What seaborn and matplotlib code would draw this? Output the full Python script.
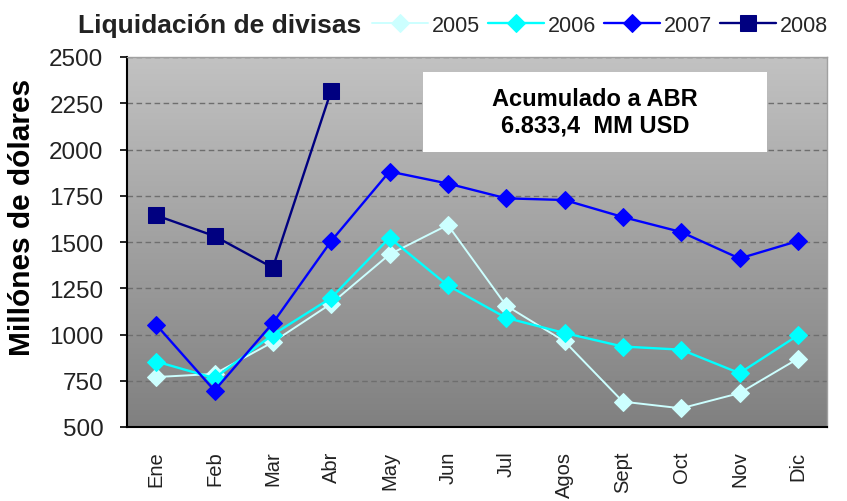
import numpy as np
import pandas as pd
import matplotlib
matplotlib.use("Agg")
import matplotlib.pyplot as plt
import seaborn as sns
from matplotlib.colors import LinearSegmentedColormap
from matplotlib.patches import Rectangle

months = ["Ene", "Feb", "Mar", "Abr", "May", "Jun", "Jul", "Agos", "Sept", "Oct", "Nov", "Dic"]
v2005 = [770, 787, 959, 1167, 1433, 1592, 1156, 963, 637, 601, 683, 869]
v2006 = [854, 764, 999, 1198, 1523, 1265, 1090, 1008, 935, 918, 791, 995]
v2007 = [1053, 697, 1062, 1505, 1881, 1816, 1736, 1727, 1635, 1554, 1411, 1505]
v2008 = [1644, 1532, 1361, 2318]
years = ["2005", "2006", "2007", "2008"]
colors = ["#CCFFFF", "#00FFFF", "#0000FF", "#000080"]
markers = ["D", "D", "D", "s"]
yticks = [500, 750, 1000, 1250, 1500, 1750, 2000, 2250, 2500]

rows = []
for yr, vals in zip(years, [v2005, v2006, v2007, v2008]):
    for m, v in zip(months, vals):
        rows.append({"mes": m, "valor": v, "anio": yr})
df = pd.DataFrame(rows)
df["x"] = df["mes"].map({m: i for i, m in enumerate(months)})

sns.set_theme(style="white")
plt.rcParams["font.family"] = ["Liberation Sans", "DejaVu Sans"]

W, H = 847, 502
fig = plt.figure(figsize=(W / 100, H / 100), dpi=100)
ax = fig.add_axes([127 / W, 1 - 428 / H, (827 - 127) / W, (428 - 58) / H])

# gradient background
grad = np.linspace(0, 1, 256).reshape(-1, 1)
cmap = LinearSegmentedColormap.from_list("g", ["#C2C2C2", "#808080"])
ax.imshow(grad, aspect="auto", cmap=cmap, extent=[0, 1, 0, 1],
          transform=ax.transAxes, zorder=0)

for yv in yticks[1:]:
    ax.axhline(yv, color="#6E6E6E", lw=1.0, ls=(0, (4, 2.5)), zorder=1)

sizes = {"2005": 9, "2006": 9, "2007": 9, "2008": 11}
widths = {"2005": 1.4, "2006": 1.7, "2007": 1.7, "2008": 1.7}
for yr, c, mk in zip(years, colors, markers):
    d = df[df["anio"] == yr]
    sns.lineplot(data=d, x="x", y="valor", ax=ax, color=c, marker=mk,
                 markersize=sizes[yr], markeredgecolor=c, lw=widths[yr],
                 label=yr, zorder=3, legend=False)

ax.set_xlim(-0.5, 11.5)
ax.set_ylim(500, 2500)
ax.set_yticks(yticks)
ax.set_yticklabels([str(t) for t in yticks], fontsize=17.5, color="#222222")
ax.set_xticks(np.arange(-0.5, 12, 1), minor=False)
ax.set_xticklabels([""] * 13)
ax.set_xticks(np.arange(12), minor=True)
ax.set_xticklabels(months, minor=True, rotation=90, fontsize=14.5, color="#222222",
                   va="top", ha="center")
ax.tick_params(axis="x", which="minor", length=0, pad=17)
ax.tick_params(axis="x", which="major", length=5, width=1.2, color="black", direction="out")
ax.tick_params(axis="y", length=5, width=1.2, color="black", direction="out", left=True, pad=12)
ax.set_xlabel("")
ax.set_ylabel("")
fig.text(22 / W, 1 - 217 / H, "Millónes de dólares", rotation=90, fontsize=21.5,
         fontweight="bold", color="black", ha="center", va="center")

for s in ["left", "bottom"]:
    ax.spines[s].set_color("black")
    ax.spines[s].set_linewidth(1.5)
for s in ["top", "right"]:
    ax.spines[s].set_color("#A0A0A0")
    ax.spines[s].set_linewidth(1.0)

# annotation box
rect = Rectangle(((423 - 127) / 700, (428 - 153) / 370), (767 - 423) / 700, (153 - 73) / 370,
                 transform=ax.transAxes, facecolor="white", edgecolor="none", zorder=4)
ax.add_patch(rect)
ax.text((595 - 127) / 700, (428 - 113) / 370, "Acumulado a ABR\n6.833,4  MM USD",
        transform=ax.transAxes, ha="center", va="center", multialignment="center",
        fontsize=17, fontweight="bold", color="black", linespacing=1.2, zorder=5)

# title and legend
fig.text(78 / W, 1 - 26 / H, "Liquidación de divisas", fontsize=19, fontweight="bold",
         color="#222222", va="center", ha="left")
handles, labels = ax.get_legend_handles_labels()
fig.legend(handles, labels, loc="center left", bbox_to_anchor=(372 / W, 1 - 26 / H),
           ncol=4, frameon=False, fontsize=15.5, handlelength=2.6, handletextpad=0.2,
           columnspacing=0.35, borderaxespad=0, borderpad=0)

fig.savefig("out.png", dpi=100)
